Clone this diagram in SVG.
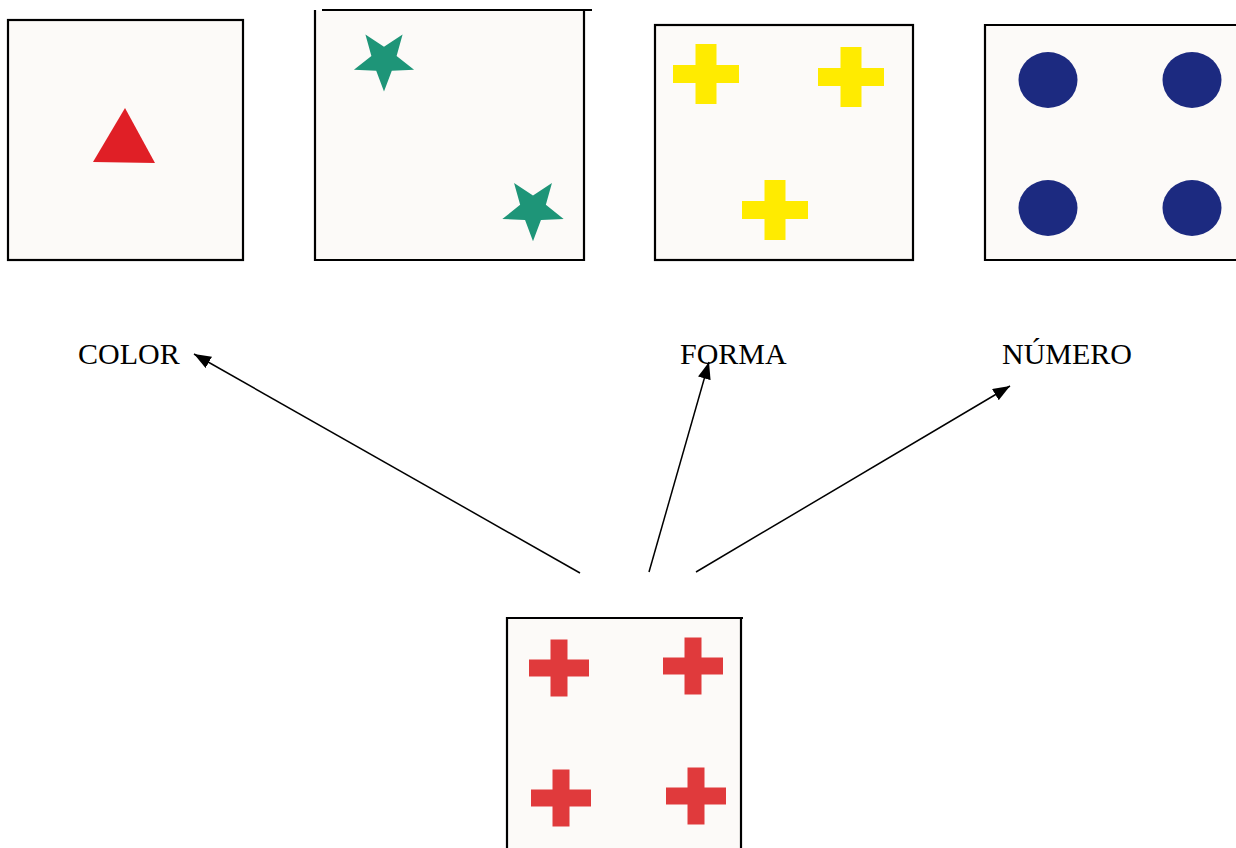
<svg xmlns="http://www.w3.org/2000/svg" width="1236" height="848" viewBox="0 0 1236 848">
  <style>
    .card { fill: #fcfaf8; }
    .edge { stroke: #000; stroke-width: 2.2; fill: none; }
    .lbl { font-family: "Liberation Serif", "Times New Roman", serif; font-size: 30px; fill: #000; }
    .conn { stroke: #000; stroke-width: 1.5; fill: none; marker-end: url(#arrow); }
    .ycross { fill: #ffeb00; }
    .rcross { fill: #e03a3c; }
    .star { fill: #1e9578; }
    .dot { fill: #1c2a80; }
  </style>
  <defs>
    <marker id="arrow" markerUnits="userSpaceOnUse" markerWidth="18" markerHeight="14" refX="17" refY="6.5" orient="auto">
      <path d="M0,0 L17,6.5 L0,13 z" fill="#000"/>
    </marker>
    <polygon id="starShape" points="0,31 -7.64,10.52 -29.48,9.58 -12.36,-4.02 -18.22,-25.08 0,-13 18.22,-25.08 12.36,-4.02 29.48,9.58 7.64,10.52"/>
    <path id="yCross" d="M-10.5,-30 H10.5 V-9 H33 V9 H10.5 V30 H-10.5 V9 H-33 V-9 H-10.5 Z"/>
    <path id="rCross" d="M-8.5,-28.5 H8.5 V-8.5 H30 V8.5 H8.5 V28.5 H-8.5 V8.5 H-30 V-8.5 H-8.5 Z"/>
  </defs>
  <rect width="1236" height="848" fill="#fff"/>

  <g id="card-color">
    <rect class="card" x="8" y="20" width="235" height="240" fill="#f8f6f5"/>
    <rect class="edge" x="8" y="20" width="235" height="240"/>
    <polygon points="125,108 93,162 155,163" fill="#e01f26"/>
  </g>

  <g id="card-stars">
    <rect class="card" x="315" y="11" width="269" height="249"/>
    <path class="edge" d="M315,10 V260 H584 V10 M322,10 H592"/>
    <use href="#starShape" class="star" transform="translate(384,60) scale(1.02)"/>
    <use href="#starShape" class="star" transform="translate(533,209) scale(1.04)"/>
  </g>

  <g id="card-crosses">
    <rect class="card" x="655" y="25" width="258" height="235"/>
    <rect class="edge" x="655" y="25" width="258" height="235"/>
    <use href="#yCross" class="ycross" transform="translate(706,74)"/>
    <use href="#yCross" class="ycross" transform="translate(851,77)"/>
    <use href="#yCross" class="ycross" transform="translate(775,210)"/>
  </g>

  <g id="card-dots">
    <rect class="card" x="985" y="25" width="252" height="235"/>
    <path class="edge" d="M1237,25 H985 V260 H1237"/>
    <ellipse class="dot" cx="1048" cy="80" rx="29.5" ry="28"/>
    <ellipse class="dot" cx="1192" cy="80" rx="29.5" ry="28"/>
    <ellipse class="dot" cx="1048" cy="208" rx="29.5" ry="28"/>
    <ellipse class="dot" cx="1192" cy="208" rx="29.5" ry="28"/>
  </g>

  <g id="label-color"><text class="lbl" x="78" y="364">COLOR</text></g>
  <g id="label-forma"><text class="lbl" x="680" y="364">FORMA</text></g>
  <g id="label-numero"><text class="lbl" x="1002" y="364">NÚMERO</text></g>

  <g id="card-source">
    <rect class="card" x="507" y="618" width="234" height="232"/>
    <path class="edge" d="M507,850 V618 H743 M741,618 V850"/>
    <use href="#rCross" class="rcross" transform="translate(559,668)"/>
    <use href="#rCross" class="rcross" transform="translate(693,666)"/>
    <use href="#rCross" class="rcross" transform="translate(561,798)"/>
    <use href="#rCross" class="rcross" transform="translate(696,796)"/>
  </g>

  <g id="connectors">
    <line class="conn" x1="580" y1="573" x2="194" y2="354"/>
    <line class="conn" x1="649" y1="572" x2="709" y2="362"/>
    <line class="conn" x1="696" y1="572" x2="1010" y2="386"/>
  </g>
</svg>
